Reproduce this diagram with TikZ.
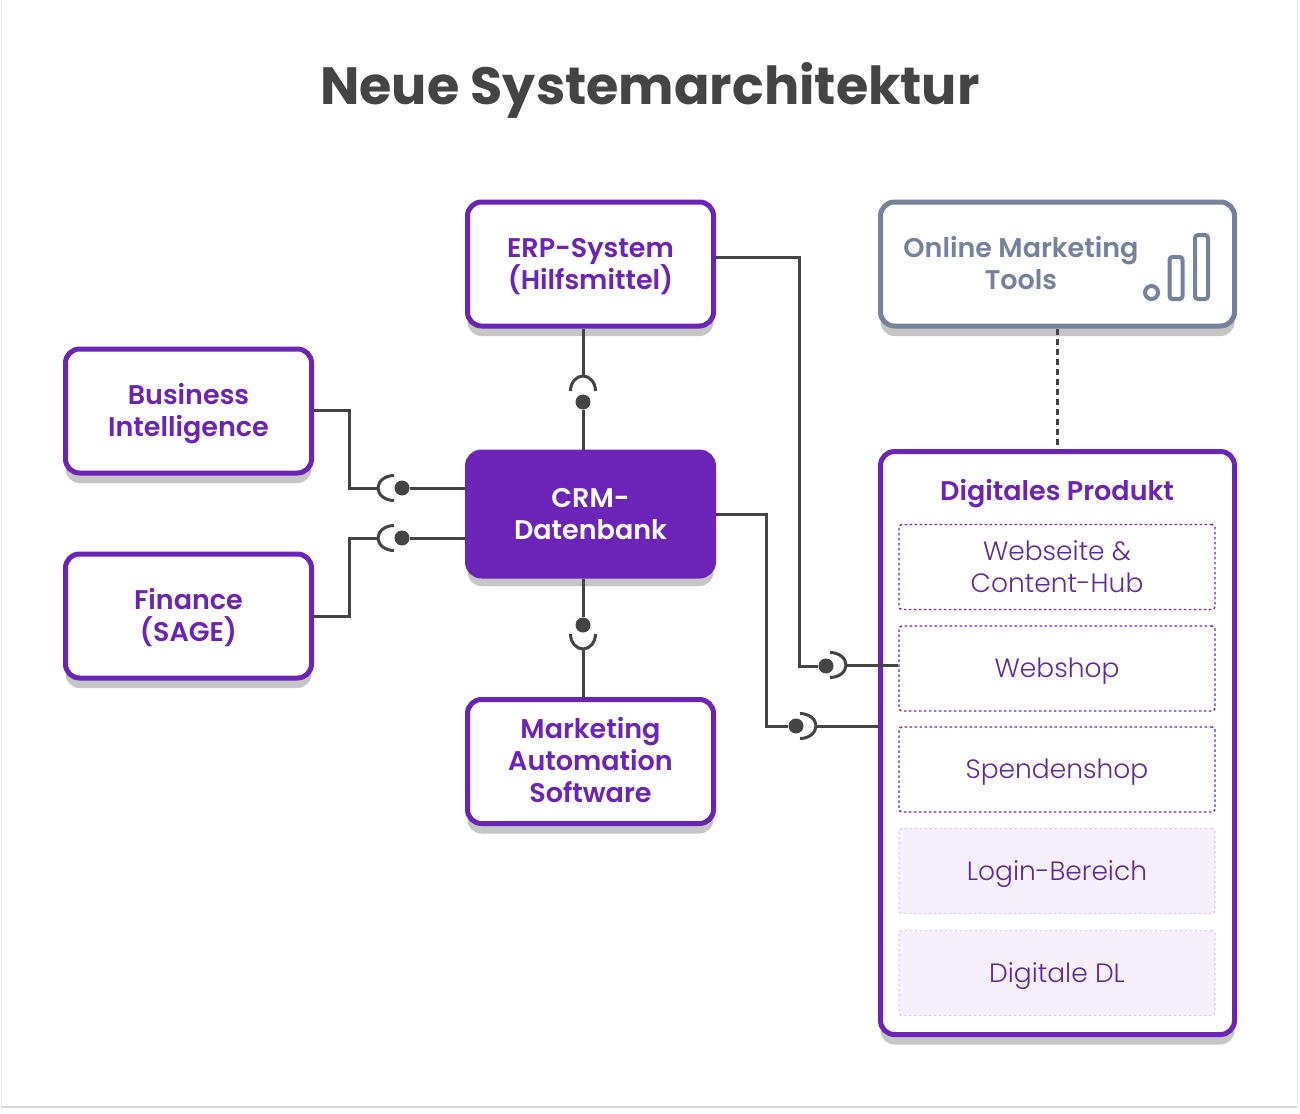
\documentclass[tikz,border=0pt]{standalone}
\usepackage{fontspec}
\setmainfont{Poppins}
\newfontfamily\semifont{Poppins SemiBold}
\newfontfamily\lightfont{Poppins Light}
\usetikzlibrary{shadows}
\definecolor{lila}{HTML}{6C24B8}
\definecolor{lilatext}{HTML}{5E2A9E}
\definecolor{lilabg}{HTML}{F6F0FC}
\definecolor{lilaline}{HTML}{D9D0E8}
\definecolor{grau}{HTML}{444444}
\definecolor{blaugrau}{HTML}{75829A}
\definecolor{schatten}{HTML}{C6C6C6}
\newcommand{\zl}[1]{\rule[-6.6pt]{0pt}{32pt}\smash{#1}}
\tikzset{
  kasten/.style={draw=lila,fill=white,line width=5pt,rounded corners=14pt,minimum width=246pt,minimum height=124pt,align=center,font=\semifont\fontsize{27}{32}\selectfont,text=lila,inner sep=0pt,general shadow={shadow yshift=-10pt,fill=schatten}},
  unterkasten/.style={draw=lila,line width=1.4pt,dash pattern=on 2.5pt off 2.5pt,rounded corners=3pt,minimum width=316pt,minimum height=85pt,align=center,font=\lightfont\fontsize{26.5}{32}\selectfont,text=lilatext,inner sep=0pt},
  flaeche/.style={unterkasten,draw=lilaline,fill=lilabg},
  linie/.style={draw=grau,line width=3pt,line join=miter},
  punkt/.style={fill=grau,circle,minimum size=15pt,inner sep=0pt},
  fuss/.style={inner sep=0pt,minimum size=0pt},
  balken/.style={draw=blaugrau,line width=4pt,rounded corners=3pt,minimum width=13pt,inner sep=0pt},
}
\begin{document}
\begin{tikzpicture}[x=1pt,y=-1pt]
\useasboundingbox (0,0) rectangle (1300,1113);
\fill[white] (0,0) rectangle (1300,1113);
\draw[draw=black!8,line width=1pt] (1,-2) -- (1,1107);
\draw[draw=black!8,line width=1pt] (1297,-2) -- (1297,1107);
\draw[draw=black!16,line width=2pt] (1,1107) -- (1297,1107);
\draw (650,90.5) node[inner sep=0pt,text=grau,font=\bfseries\fontsize{52.4}{60}\selectfont](titel) {Neue Systemarchitektur};
% linke und mittlere Kaesten
\draw (590.5,264) node[kasten](erp) {\zl{ERP-System}\\\zl{(Hilfsmittel)}};
\draw (188.5,411) node[kasten](bi) {\zl{Business}\\\zl{Intelligence}};
\draw (188.5,616) node[kasten](finance) {\zl{Finance}\\\zl{(SAGE)}};
\draw (590.5,514) node[kasten,fill=lila,text=white](crm) {\zl{CRM-}\\\zl{Datenbank}};
\draw (590.5,761.5) node[kasten](mas) {\zl{Marketing}\\\zl{Automation}\\\zl{Software}};
% rechte Spalte
\draw (1057.5,264) node[kasten,draw=blaugrau,minimum width=354pt](tools) {};
\draw (1021,264) node[align=center,inner sep=0pt,text=blaugrau,font=\semifont\fontsize{27}{32}\selectfont](toolstext) {\zl{Online Marketing}\\\zl{Tools}};
\draw (1151.5,292.5) node[draw=blaugrau,line width=4pt,circle,minimum size=13pt,inner sep=0pt](icon0) {};
\draw (1176,278) node[balken,minimum height=42pt](icon1) {};
\draw (1201.5,267) node[balken,minimum height=64pt](icon2) {};
\draw (1057.5,743) node[kasten,minimum width=354pt,minimum height=583pt](produkt) {};
\draw (1057,491) node[inner sep=0pt,text=lila,font=\semifont\fontsize{27}{32}\selectfont](produkttext) {\zl{Digitales Produkt}};
\draw (1057,567) node[unterkasten](web) {\zl{Webseite \&}\\\zl{Content-Hub}};
\draw (1057,668.5) node[unterkasten](shop) {\zl{Webshop}};
\draw (1057,769.5) node[unterkasten](spende) {\zl{Spendenshop}};
\draw (1057,871) node[flaeche](login) {\zl{Login-Bereich}};
\draw (1057,973) node[flaeche](dl) {\zl{Digitale DL}};
% Verbindungen
\draw (402,488) node[punkt](punktbi) {};
\draw (378,488) node[fuss](fussbi) {};
\draw[linie] (bi.east |- 0,410) -| (349,488) -- (fussbi);
\draw[linie] (fussbi) ++(16,-12.5) arc[start angle=90,end angle=270,x radius=16pt,y radius=12.5pt];
\draw[linie] (punktbi) -- (punktbi -| crm.west);
\draw (402,538) node[punkt](punktfin) {};
\draw (378,538) node[fuss](fussfin) {};
\draw[linie] (finance.east) -| (349,538) -- (fussfin);
\draw[linie] (fussfin) ++(16,-12.5) arc[start angle=90,end angle=270,x radius=16pt,y radius=12.5pt];
\draw[linie] (punktfin) -- (punktfin -| crm.west);
\draw (583,402) node[punkt](punkterp) {};
\draw (583,376) node[fuss](fusserp) {};
\draw[linie] (fusserp) -- (fusserp |- erp.south);
\draw[linie] (fusserp) ++(-12.5,15) arc[start angle=180,end angle=0,x radius=12.5pt,y radius=15pt];
\draw[linie] (punkterp) -- (punkterp |- crm.north);
\draw (583,625) node[punkt](punktmas) {};
\draw (583,649) node[fuss](fussmas) {};
\draw[linie] (fussmas) -- (fussmas |- mas.north);
\draw[linie] (fussmas) ++(-12.5,-15) arc[start angle=180,end angle=360,x radius=12.5pt,y radius=15pt];
\draw[linie] (punktmas) -- (punktmas |- crm.south);
\draw (826,666) node[punkt](punktshop) {};
\draw (846,665) node[fuss](fussshop) {};
\draw[linie] (erp.east |- 0,257) -| (799,666) -- (punktshop);
\draw[linie] (fussshop) ++(-16,-12.5) arc[start angle=90,end angle=-90,x radius=16pt,y radius=12.5pt];
\draw[linie] (fussshop) -- (fussshop -| shop.west);
\draw (796,726) node[punkt](punktprod) {};
\draw (816,726) node[fuss](fussprod) {};
\draw[linie] (crm.east) -| (766,726) -- (punktprod);
\draw[linie] (fussprod) ++(-16,-12.5) arc[start angle=90,end angle=-90,x radius=16pt,y radius=12.5pt];
\draw[linie] (fussprod) -- (fussprod -| produkt.west);
\draw[linie,dash pattern=on 6pt off 4pt] (tools.south -| produkt.north) -- (produkt.north);
\end{tikzpicture}
\end{document}
